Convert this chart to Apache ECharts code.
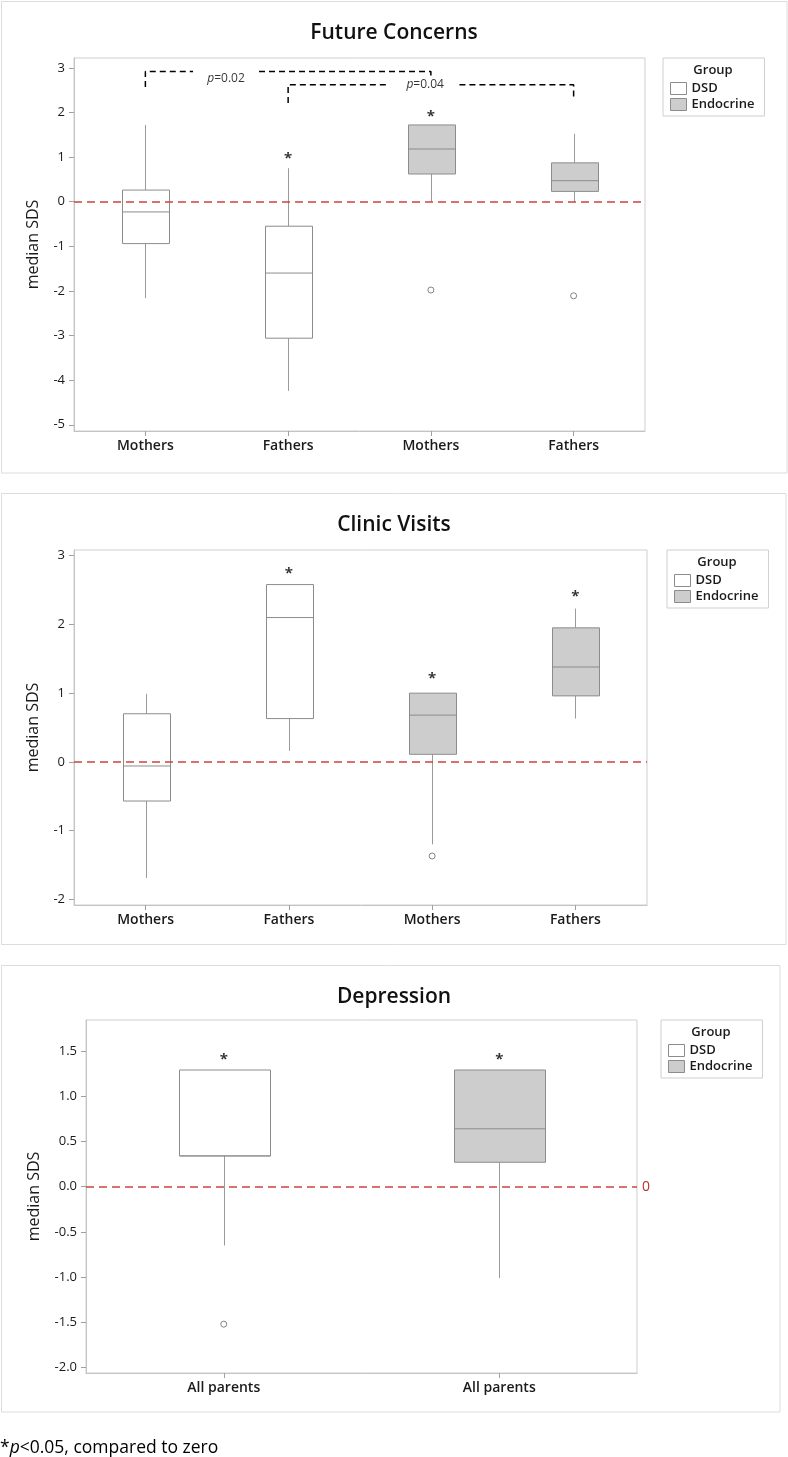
<!DOCTYPE html>
<html>
<head>
<meta charset="utf-8">
<script src="https://cdn.jsdelivr.net/npm/echarts@6/dist/echarts.min.js"></script>
<style>
html,body{margin:0;padding:0;background:#fff;}
#chart{width:788px;height:1457px;}
</style>
</head>
<body>
<div id="chart"></div>
<script>
// ---------- DATA ----------
const groups = ['DSD', 'Endocrine'];

// Panel 1: Future Concerns
const cats1 = ['Mothers', 'Fathers', 'Mothers', 'Fathers'];
// [categoryIndex, min, Q1, median, Q3, max]
const dsd1 = [[0, -2.16, -0.94, -0.23, 0.26, 1.72], [1, -4.24, -3.06, -1.60, -0.55, 0.75]];
const endo1 = [[2, 0.0, 0.62, 1.18, 1.72, 1.72], [3, 0.0, 0.23, 0.47, 0.87, 1.52]];
const outliers1 = [[2, -1.98], [3, -2.11]];
const stars1 = [[1, 1.02], [2, 1.98]];
const yTicks1 = [-5, -4, -3, -2, -1, 0, 1, 2, 3];
// bracket paths [x, y] on category-index scale; '-' breaks the line for the label
const bracket002 = [[0, 2.57], [0, 2.92], [0.334, 2.92], '-', [0.796, 2.92], [2, 2.92], [2, 2.82]];
const bracket004 = [[1, 2.21], [1, 2.62], [1.71, 2.62], '-', [2.2, 2.62], [3, 2.62], [3, 2.33]];
const pLabels1 = [[0.565, 2.75, '0.02'], [1.96, 2.62, '0.04']];

// Panel 2: Clinic Visits
const cats2 = ['Mothers', 'Fathers', 'Mothers', 'Fathers'];
const dsd2 = [[0, -1.69, -0.57, -0.06, 0.70, 0.99], [1, 0.16, 0.63, 2.10, 2.58, 2.58]];
const endo2 = [[2, -1.20, 0.11, 0.68, 1.00, 1.00], [3, 0.63, 0.96, 1.38, 1.95, 2.23]];
const outliers2 = [[2, -1.37]];
const stars2 = [[1, 2.78], [2, 1.26], [3, 2.45]];
const yTicks2 = [-2, -1, 0, 1, 2, 3];

// Panel 3: Depression
const cats3 = ['All parents', 'All parents'];
const dsd3 = [[0, -0.65, 0.34, 0.34, 1.29, 1.29]];
const endo3 = [[1, -1.01, 0.27, 0.64, 1.29, 1.29]];
const outliers3 = [[0, -1.52]];
const stars3 = [[0, 1.44], [1, 1.44]];
const yTicks3 = [-2.0, -1.5, -1.0, -0.5, 0.0, 0.5, 1.0, 1.5];

const titles = ['Future Concerns', 'Clinic Visits', 'Depression'];

// ---------- STYLE ----------
const FONT = "'Open Sans', 'Noto Sans', sans-serif";
const TXT = '#1a1a1a';
const BOX_STROKE = '#8c8c8c';
const WHISK = '#9a9a9a';
const FILL = {DSD: '#ffffff', Endocrine: '#cdcdcd'};
const RED = '#cf4242';

const grids = [
  {left: 74, top: 58, width: 571, height: 373},
  {left: 74, top: 550, width: 573, height: 355},
  {left: 86, top: 1020, width: 551, height: 353}
];
const yRanges = [[-5.14, 3.22], [-2.083, 3.083], [-2.06, 1.843]];
const panels = [
  {x: 1.5, y: 1.5, w: 785.5, h: 471.5},
  {x: 1.5, y: 493.5, w: 784.5, h: 451},
  {x: 1.5, y: 965.5, w: 778.5, h: 446.5}
];
const legendPos = [{left: 663, top: 58}, {left: 667, top: 550}, {left: 661, top: 1020}];

function boxRender(fill) {
  return function (params, api) {
    const x = api.value(0);
    const v = [1, 2, 3, 4, 5].map(i => api.value(i));
    const w = api.size([1, 0])[0] * 0.333;
    const pMin = api.coord([x, v[0]]);
    const pQ1 = api.coord([x, v[1]]);
    const pMed = api.coord([x, v[2]]);
    const pQ3 = api.coord([x, v[3]]);
    const pMax = api.coord([x, v[4]]);
    const cx = Math.round(pMin[0]) + 0.5;
    const l = Math.round(cx - w / 2) + 0.5, r = Math.round(cx + w / 2) + 0.5;
    const children = [];
    if (pMin[1] - pQ1[1] > 0.5) children.push({type: 'line', shape: {x1: cx, y1: pQ1[1], x2: cx, y2: pMin[1]}, style: {stroke: WHISK, lineWidth: 1}});
    if (pQ3[1] - pMax[1] > 0.5) children.push({type: 'line', shape: {x1: cx, y1: pMax[1], x2: cx, y2: pQ3[1]}, style: {stroke: WHISK, lineWidth: 1}});
    children.push({type: 'rect', shape: {x: l, y: pQ3[1], width: r - l, height: pQ1[1] - pQ3[1]}, style: {fill: fill, stroke: BOX_STROKE, lineWidth: 1}});
    children.push({type: 'line', shape: {x1: l, y1: pMed[1], x2: r, y2: pMed[1]}, style: {stroke: BOX_STROKE, lineWidth: 1}});
    return {type: 'group', children: children};
  };
}

const allCats = [cats1, cats2, cats3];
const allDsd = [dsd1, dsd2, dsd3];
const allEndo = [endo1, endo2, endo3];
const allOut = [outliers1, outliers2, outliers3];
const allStars = [stars1, stars2, stars3];
const allTicks = [yTicks1, yTicks2, yTicks3];

const xAxes = [], yAxes = [], series = [], legends = [], titleOpts = [], graphics = [];

for (let i = 0; i < 3; i++) {
  xAxes.push({
    type: 'category', gridIndex: i, data: allCats[i], boundaryGap: true,
    axisLine: {show: true, onZero: false, lineStyle: {color: '#c4c4c4'}},
    axisTick: {show: true, alignWithLabel: true, length: 5, lineStyle: {color: '#a0a0a0'}},
    axisLabel: {fontSize: 14, fontWeight: 600, color: TXT, fontFamily: FONT, margin: 8},
    splitLine: {show: false}
  });
  yAxes.push({
    type: 'value', gridIndex: i, min: yRanges[i][0], max: yRanges[i][1],
    name: 'median SDS', nameLocation: 'middle', nameGap: i === 2 ? 44 : 33,
    nameTextStyle: {fontSize: 16, color: TXT, fontFamily: FONT},
    axisLine: {show: true, onZero: false, lineStyle: {color: '#c4c4c4'}},
    axisTick: {show: true, length: 5, lineStyle: {color: '#a0a0a0'}, customValues: allTicks[i]},
    axisLabel: {fontSize: 13, color: TXT, fontFamily: FONT, margin: 9, customValues: allTicks[i],
      formatter: i === 2 ? (v => v.toFixed(1)) : (v => String(Math.round(v)))},
    splitLine: {show: false}
  });
  series.push({
    name: 'DSD', type: 'custom', xAxisIndex: i, yAxisIndex: i,
    renderItem: boxRender(FILL.DSD), data: allDsd[i], encode: {x: 0, y: [1, 2, 3, 4, 5]},
    itemStyle: {color: FILL.DSD, borderColor: BOX_STROKE},
    z: 2,
    markLine: {
      silent: true, symbol: ['none', 'none'], animation: false,
      lineStyle: {color: RED, type: [8, 5], width: 1.7},
      label: i === 2 ? {show: true, position: 'end', formatter: '0', color: '#b5312e', fontSize: 14, fontFamily: FONT, distance: 5} : {show: false},
      data: [{yAxis: 0}]
    }
  });
  series.push({
    name: 'Endocrine', type: 'custom', xAxisIndex: i, yAxisIndex: i,
    renderItem: boxRender(FILL.Endocrine), data: allEndo[i], encode: {x: 0, y: [1, 2, 3, 4, 5]},
    itemStyle: {color: FILL.Endocrine, borderColor: BOX_STROKE}, z: 2
  });
  series.push({
    name: 'outliers', type: 'scatter', xAxisIndex: i, yAxisIndex: i, data: allOut[i],
    symbol: 'circle', symbolSize: 6, silent: true,
    itemStyle: {color: '#fff', borderColor: '#666', borderWidth: 1}, z: 4
  });
  series.push({
    name: 'significance', type: 'scatter', xAxisIndex: i, yAxisIndex: i, data: allStars[i],
    symbolSize: 0, silent: true,
    label: {show: true, position: 'inside', formatter: '*', fontSize: 15, fontWeight: 'bold', color: '#000', fontFamily: FONT, offset: [0, 3]},
    z: 4
  });
  legends.push({
    left: legendPos[i].left, top: legendPos[i].top, orient: 'vertical', selectedMode: false,
    padding: [24, 10, 5, 7], itemGap: 3, itemWidth: 16, itemHeight: 12, icon: 'rect',
    borderColor: '#cfcfcf', borderWidth: 1, backgroundColor: '#fff',
    textStyle: {fontSize: 13, fontWeight: 600, color: TXT, fontFamily: FONT},
    data: [
      {name: 'DSD', itemStyle: {color: FILL.DSD, borderColor: BOX_STROKE, borderWidth: 1}},
      {name: 'Endocrine', itemStyle: {color: FILL.Endocrine, borderColor: BOX_STROKE, borderWidth: 1}}
    ]
  });
  titleOpts.push({
    text: titles[i], left: 'center', top: [18, 510, 982][i],
    textStyle: {fontSize: 21, fontWeight: 600, color: '#111', fontFamily: FONT}
  });
  graphics.push({
    type: 'rect', shape: {x: panels[i].x, y: panels[i].y, width: panels[i].w, height: panels[i].h},
    style: {fill: 'none', stroke: '#dcdcdc', lineWidth: 1}, z: -10, silent: true
  });
  graphics.push({
    type: 'text', x: legendPos[i].left + 50, y: legendPos[i].top + 12,
    style: {text: 'Group', fontSize: 13, fontWeight: 600, fill: TXT, fontFamily: FONT, textAlign: 'center', textVerticalAlign: 'middle'},
    z: 100, silent: true
  });
}

// hidden value x-axis in panel 1 for the comparison brackets
xAxes.push({type: 'value', gridIndex: 0, min: -0.5, max: 3.5, show: false, axisLine: {onZero: false}});
const bx = xAxes.length - 1;
[bracket002, bracket004].forEach(function (b) {
  series.push({
    name: 'bracket', type: 'line', xAxisIndex: bx, yAxisIndex: 0, data: b,
    symbol: 'none', silent: true, connectNulls: false, animation: false,
    lineStyle: {color: '#000', width: 1.5, type: [6, 4]}, z: 3
  });
});
series.push({
  name: 'pvalues', type: 'scatter', xAxisIndex: bx, yAxisIndex: 0,
  data: pLabels1, symbolSize: 0, silent: true,
  label: {
    show: true, position: 'inside', fontFamily: FONT,
    formatter: p => '{i|p}{n|=' + p.value[2] + '}',
    rich: {i: {fontStyle: 'italic', fontSize: 12, color: '#000', fontFamily: FONT}, n: {fontSize: 12, color: '#000', fontFamily: FONT}}
  }, z: 4
});

graphics.push({
  type: 'text', x: 0, y: 1448,
  style: {
    text: '{a|*}{b|p}{a|<0.05, compared to zero}',
    rich: {a: {fontSize: 17.5, fill: '#000', fontFamily: FONT}, b: {fontSize: 17.5, fontStyle: 'italic', fill: '#000', fontFamily: FONT}},
    textVerticalAlign: 'middle'
  }
});

const chart = echarts.init(document.getElementById('chart'), null, {renderer: 'canvas'});
chart.setOption({
  animation: false,
  backgroundColor: '#fff',
  title: titleOpts,
  grid: grids.map(g => Object.assign({show: true, borderColor: '#cfcfcf', borderWidth: 1, backgroundColor: 'transparent'}, g)),
  xAxis: xAxes,
  yAxis: yAxes,
  legend: legends,
  series: series,
  graphic: graphics
});
</script>
</body>
</html>
